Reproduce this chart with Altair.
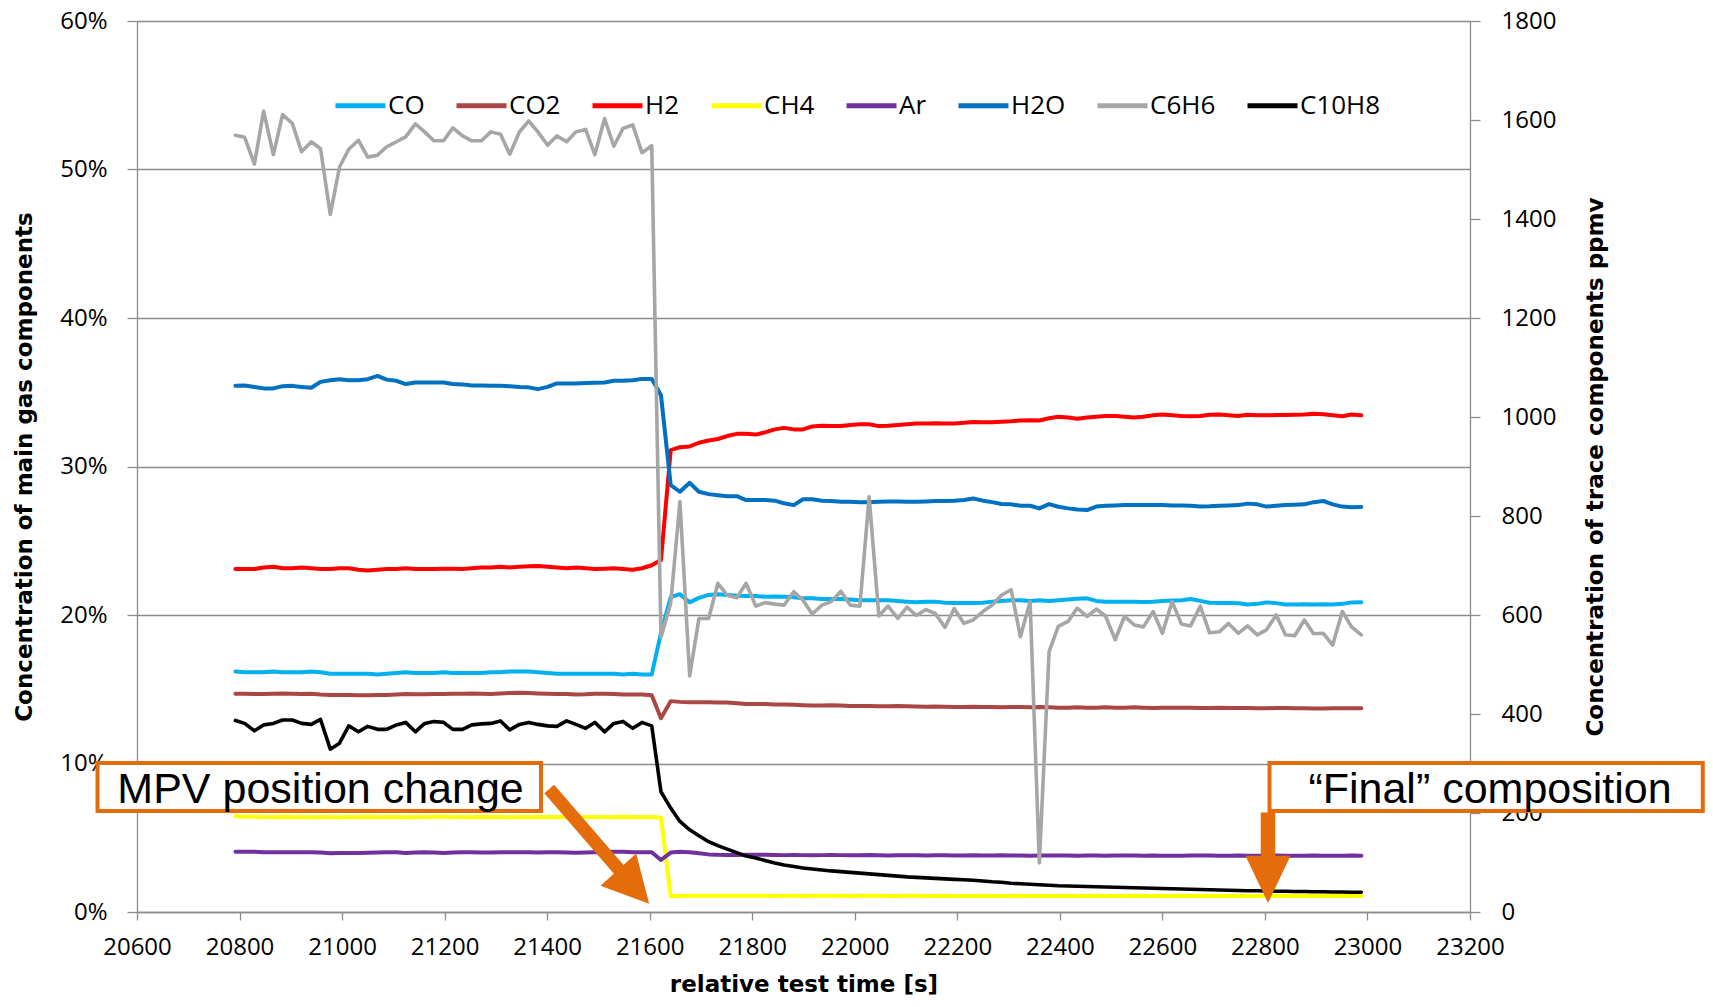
import altair as alt
import pandas as pd

# ---------------- data ----------------
TIME = [
    20792, 20810, 20829, 20847, 20866, 20884, 20903, 20921, 20940, 20958,
    20977, 20995, 21013, 21032, 21050, 21069, 21087, 21106, 21124, 21143,
    21161, 21179, 21198, 21216, 21235, 21253, 21272, 21290, 21309, 21327,
    21346, 21364, 21382, 21401, 21419, 21438, 21456, 21475, 21493, 21512,
    21530, 21548, 21567, 21585, 21604, 21622, 21641, 21659, 21678, 21696,
    21715, 21733, 21751, 21770, 21788, 21807, 21825, 21844, 21862, 21881,
    21899, 21917, 21936, 21954, 21973, 21991, 22010, 22028, 22047, 22065,
    22084, 22102, 22120, 22139, 22157, 22176, 22194, 22213, 22231, 22250,
    22268, 22286, 22305, 22323, 22342, 22360, 22379, 22397, 22416, 22434,
    22453, 22471, 22489, 22508, 22526, 22545, 22563, 22582, 22600, 22619,
    22637, 22655, 22674, 22692, 22711, 22729, 22748, 22766, 22785, 22803,
    22822, 22840, 22858, 22877, 22895, 22914, 22932, 22951, 22969, 22988,
]

CO = [
    16.20, 16.15, 16.15, 16.15, 16.20, 16.15, 16.15, 16.15, 16.20, 16.15,
    16.05, 16.05, 16.05, 16.05, 16.05, 16.00, 16.05, 16.10, 16.15, 16.10,
    16.10, 16.10, 16.15, 16.10, 16.10, 16.10, 16.10, 16.15, 16.15, 16.20,
    16.20, 16.20, 16.15, 16.10, 16.05, 16.05, 16.05, 16.05, 16.05, 16.05,
    16.05, 16.00, 16.05, 16.00, 16.00, 18.80, 21.20, 21.40, 20.85, 21.15,
    21.35, 21.40, 21.35, 21.30, 21.28, 21.28, 21.23, 21.25, 21.23, 21.20,
    21.12, 21.12, 21.08, 21.08, 21.08, 21.05, 21.00, 21.00, 21.00, 21.00,
    20.95, 20.90, 20.86, 20.90, 20.90, 20.83, 20.80, 20.80, 20.80, 20.83,
    20.90, 20.95, 21.00, 21.00, 20.95, 21.00, 20.95, 21.00, 21.05, 21.10,
    21.12, 20.95, 20.90, 20.90, 20.90, 20.90, 20.88, 20.90, 20.95, 20.97,
    21.00, 21.08, 20.95, 20.83, 20.80, 20.80, 20.79, 20.71, 20.75, 20.85,
    20.80, 20.71, 20.71, 20.72, 20.71, 20.72, 20.71, 20.75, 20.85, 20.86,
]

CO2 = [
    14.70, 14.70, 14.68, 14.68, 14.70, 14.72, 14.70, 14.68, 14.70, 14.65,
    14.62, 14.62, 14.62, 14.60, 14.60, 14.62, 14.62, 14.65, 14.68, 14.66,
    14.66, 14.68, 14.68, 14.70, 14.70, 14.72, 14.70, 14.68, 14.72, 14.74,
    14.76, 14.74, 14.72, 14.70, 14.68, 14.68, 14.65, 14.66, 14.70, 14.70,
    14.68, 14.65, 14.65, 14.65, 14.60, 13.05, 14.20, 14.15, 14.12, 14.12,
    14.12, 14.10, 14.10, 14.05, 14.00, 14.00, 14.00, 13.98, 13.98, 13.95,
    13.92, 13.90, 13.90, 13.92, 13.90, 13.88, 13.88, 13.88, 13.85, 13.85,
    13.88, 13.86, 13.84, 13.82, 13.84, 13.82, 13.80, 13.80, 13.82, 13.80,
    13.80, 13.78, 13.80, 13.80, 13.78, 13.80, 13.78, 13.76, 13.76, 13.78,
    13.76, 13.75, 13.78, 13.76, 13.75, 13.78, 13.76, 13.74, 13.76, 13.76,
    13.75, 13.76, 13.74, 13.74, 13.75, 13.74, 13.74, 13.74, 13.72, 13.72,
    13.74, 13.74, 13.72, 13.72, 13.70, 13.70, 13.72, 13.72, 13.72, 13.72,
]

H2 = [
    23.10, 23.10, 23.10, 23.20, 23.25, 23.15, 23.15, 23.20, 23.15, 23.10,
    23.10, 23.15, 23.15, 23.05, 23.00, 23.05, 23.10, 23.10, 23.15, 23.10,
    23.10, 23.10, 23.12, 23.12, 23.10, 23.15, 23.20, 23.20, 23.25, 23.20,
    23.25, 23.28, 23.30, 23.25, 23.20, 23.15, 23.20, 23.15, 23.10, 23.12,
    23.15, 23.10, 23.05, 23.15, 23.35, 23.70, 31.10, 31.30, 31.35, 31.60,
    31.75, 31.85, 32.05, 32.20, 32.20, 32.15, 32.30, 32.50, 32.60, 32.50,
    32.50, 32.70, 32.75, 32.72, 32.72, 32.80, 32.85, 32.85, 32.72, 32.75,
    32.80, 32.85, 32.90, 32.90, 32.92, 32.90, 32.90, 32.95, 33.00, 32.98,
    32.98, 33.02, 33.05, 33.10, 33.12, 33.10, 33.25, 33.35, 33.30, 33.22,
    33.30, 33.35, 33.40, 33.40, 33.35, 33.30, 33.35, 33.45, 33.50, 33.45,
    33.40, 33.38, 33.40, 33.48, 33.50, 33.45, 33.40, 33.48, 33.45, 33.45,
    33.46, 33.46, 33.48, 33.50, 33.55, 33.52, 33.45, 33.38, 33.50, 33.45,
]

CH4 = [
    6.45, 6.42, 6.42, 6.40, 6.40, 6.42, 6.40, 6.40, 6.38, 6.40,
    6.40, 6.38, 6.40, 6.40, 6.42, 6.40, 6.40, 6.40, 6.38, 6.40,
    6.40, 6.42, 6.42, 6.40, 6.40, 6.40, 6.42, 6.40, 6.40, 6.38,
    6.40, 6.40, 6.42, 6.40, 6.40, 6.40, 6.40, 6.38, 6.40, 6.40,
    6.40, 6.42, 6.40, 6.40, 6.40, 6.35, 1.06, 1.08, 1.09, 1.09,
    1.10, 1.09, 1.09, 1.10, 1.10, 1.09, 1.09, 1.08, 1.09, 1.09,
    1.08, 1.09, 1.09, 1.10, 1.09, 1.08, 1.09, 1.10, 1.09, 1.08,
    1.08, 1.09, 1.09, 1.08, 1.08, 1.09, 1.08, 1.07, 1.08, 1.09,
    1.08, 1.07, 1.08, 1.09, 1.08, 1.08, 1.07, 1.08, 1.09, 1.08,
    1.08, 1.09, 1.08, 1.07, 1.08, 1.09, 1.08, 1.08, 1.07, 1.08,
    1.09, 1.08, 1.08, 1.07, 1.08, 1.08, 1.09, 1.08, 1.07, 1.08,
    1.08, 1.07, 1.08, 1.09, 1.08, 1.08, 1.07, 1.08, 1.08, 1.08,
]

AR = [
    4.05, 4.05, 4.05, 4.03, 4.02, 4.03, 4.03, 4.02, 4.03, 4.00,
    3.95, 3.97, 3.98, 3.98, 3.99, 4.00, 4.02, 4.02, 3.98, 4.00,
    4.02, 4.00, 3.97, 4.00, 4.02, 4.02, 4.00, 4.00, 4.02, 4.02,
    4.03, 4.02, 4.00, 4.02, 4.02, 4.00, 3.99, 4.00, 4.02, 4.03,
    4.05, 4.05, 4.02, 4.03, 4.02, 3.50, 4.00, 4.05, 4.03, 3.95,
    3.88, 3.85, 3.84, 3.84, 3.85, 3.86, 3.85, 3.84, 3.83, 3.84,
    3.83, 3.82, 3.83, 3.84, 3.83, 3.82, 3.82, 3.84, 3.82, 3.81,
    3.82, 3.83, 3.82, 3.80, 3.82, 3.82, 3.80, 3.81, 3.82, 3.80,
    3.80, 3.82, 3.81, 3.80, 3.79, 3.80, 3.81, 3.80, 3.80, 3.79,
    3.80, 3.80, 3.78, 3.80, 3.81, 3.80, 3.78, 3.80, 3.79, 3.78,
    3.79, 3.80, 3.81, 3.80, 3.78, 3.79, 3.80, 3.79, 3.78, 3.79,
    3.80, 3.79, 3.78, 3.79, 3.80, 3.79, 3.78, 3.79, 3.80, 3.79,
]

H2O = [
    35.43, 35.45, 35.36, 35.26, 35.26, 35.41, 35.43, 35.36, 35.30, 35.70,
    35.81, 35.88, 35.81, 35.81, 35.88, 36.10, 35.85, 35.77, 35.55, 35.66,
    35.66, 35.66, 35.66, 35.55, 35.53, 35.45, 35.45, 35.43, 35.43, 35.41,
    35.36, 35.33, 35.21, 35.36, 35.59, 35.59, 35.59, 35.62, 35.64, 35.66,
    35.77, 35.77, 35.81, 35.90, 35.90, 34.80, 28.75, 28.30, 28.90, 28.30,
    28.14, 28.07, 28.00, 28.00, 27.74, 27.74, 27.74, 27.70, 27.52, 27.40,
    27.79, 27.79, 27.70, 27.68, 27.63, 27.63, 27.60, 27.60, 27.63, 27.65,
    27.65, 27.63, 27.62, 27.65, 27.68, 27.68, 27.70, 27.74, 27.85, 27.70,
    27.60, 27.47, 27.45, 27.36, 27.36, 27.18, 27.47, 27.29, 27.18, 27.11,
    27.07, 27.30, 27.36, 27.38, 27.40, 27.40, 27.40, 27.40, 27.40, 27.38,
    27.38, 27.36, 27.30, 27.32, 27.36, 27.38, 27.40, 27.50, 27.45, 27.30,
    27.35, 27.40, 27.42, 27.45, 27.60, 27.68, 27.45, 27.30, 27.25, 27.28,
]

C6H6 = [
    1569, 1565, 1511, 1618, 1530, 1611, 1593, 1536, 1556, 1542,
    1409, 1505, 1541, 1559, 1525, 1529, 1546, 1556, 1566, 1592,
    1576, 1558, 1558, 1584, 1568, 1558, 1558, 1576, 1571, 1531,
    1576, 1598, 1576, 1549, 1568, 1556, 1576, 1581, 1530, 1603,
    1547, 1583, 1590, 1534, 1548, 555, 624, 829, 477, 593,
    593, 664, 640, 635, 664, 618, 625, 622, 620, 647,
    630, 602, 620, 627, 648, 620, 618, 839, 598, 618,
    593, 616, 599, 611, 603, 575, 613, 583, 590, 607,
    620, 640, 651, 556, 627, 99, 526, 577, 587, 614,
    597, 612, 598, 550, 597, 580, 576, 607, 563, 627,
    582, 578, 618, 564, 566, 583, 563, 578, 560, 570,
    600, 560, 558, 590, 562, 563, 539, 607, 576, 560,
]

C10H8 = [
    387, 381, 366, 378, 381, 388, 388, 381, 379, 389,
    329, 341, 376, 364, 375, 369, 369, 378, 383, 364,
    381, 385, 383, 369, 369, 378, 380, 381, 386, 368,
    379, 383, 379, 376, 375, 386, 379, 371, 383, 364,
    381, 385, 371, 383, 376, 243, 210, 183, 166, 154,
    142, 134, 127, 120, 113, 109, 104, 99, 95, 92,
    89, 87, 85, 83, 81.5, 80, 78.5, 77, 75.5, 74,
    72.5, 71, 70, 69, 68, 67, 66, 65, 64, 62.5,
    61, 60, 58, 57, 56, 55, 54, 53, 52.5, 52,
    51.5, 51, 50.5, 50, 49.5, 49, 48.5, 48, 47.5, 47,
    46.5, 46, 45.5, 45, 44.5, 44, 43.5, 43, 43, 42.5,
    42, 42, 41.5, 41.5, 41, 41, 40.5, 40.5, 40, 40,
]

SERIES = ["CO", "CO2", "H2", "CH4", "Ar", "H2O", "C6H6", "C10H8"]
COLORS = ["#00B0F0", "#AA4643", "#FF0000", "#FFFF00", "#7030A0", "#0070C0", "#A6A6A6", "#000000"]
MAIN = {"CO": CO, "CO2": CO2, "H2": H2, "CH4": CH4, "Ar": AR, "H2O": H2O}
TRACE = {"C6H6": C6H6, "C10H8": C10H8}

X_TICKS = [20600, 20800, 21000, 21200, 21400, 21600, 21800, 22000,
           22200, 22400, 22600, 22800, 23000, 23200]
PCT_TICKS = [0, 10, 20, 30, 40, 50, 60]
PPM_TICKS = [0, 200, 400, 600, 800, 1000, 1200, 1400, 1600, 1800]

# annotations (data coordinates: time [s], percent)
BOX_LABELS = ["MPV position change", "\u201cFinal\u201d composition"]
BOX_T0 = [20523, 22809]
BOX_T1 = [21388, 23654]
BOX_P0 = [10.03, 10.03]
BOX_P1 = [6.80, 6.80]
TEXT_T = [20958, 23239]
TEXT_P = [7.33, 7.33]
ARROW1_T = [21404, 21566]
ARROW1_P = [8.29, 1.81]
ARROW1_TIP = [21599, 0.55]
ARROW2_T = [22806, 22806]
ARROW2_P = [6.70, 2.60]
ARROW2_TIP = [22806, 0.60]

ORANGE = "#E46C0A"
GRID = "#8C8C8C"

# ---------------- tables ----------------
df_main = pd.DataFrame(
    [{"time": t, "series": s, "pct": v} for s, vals in MAIN.items() for t, v in zip(TIME, vals)]
)
df_trace = pd.DataFrame(
    [{"time": t, "series": s, "ppm": v} for s, vals in TRACE.items() for t, v in zip(TIME, vals)]
)
df_box = pd.DataFrame({"time": BOX_T0, "time2": BOX_T1, "pct": BOX_P0, "pct2": BOX_P1})
df_text = pd.DataFrame({"time": TEXT_T, "pct": TEXT_P, "label": BOX_LABELS})
df_a1 = pd.DataFrame({"time": ARROW1_T, "pct": ARROW1_P})
df_a2 = pd.DataFrame({"time": ARROW2_T, "pct": ARROW2_P})
df_h1 = pd.DataFrame({"time": [ARROW1_TIP[0]], "pct": [ARROW1_TIP[1]]})
df_h2 = pd.DataFrame({"time": [ARROW2_TIP[0]], "pct": [ARROW2_TIP[1]]})

LABEL_FONT = "Open Sans"
TITLE_FONT = "DejaVu Sans"

x_enc = alt.X(
    "time:Q",
    scale=alt.Scale(domain=[20600, 23200], nice=False, zero=False),
    axis=alt.Axis(
        values=X_TICKS, format="d", grid=False, labelFlush=False, labelOverlap=False,
        labelFont=LABEL_FONT, labelFontSize=24, labelColor="#000000",
        labelBaseline="middle", labelPadding=27,
        tickSize=8, tickColor=GRID, tickWidth=1.3,
        domainColor=GRID, domainWidth=1.3,
        title="relative test time [s]", titleFont=TITLE_FONT, titleFontSize=23,
        titleFontWeight="bold", titleColor="#000000",
        titleX=666.5, titleY=72, titleBaseline="middle", titleAlign="center",
        zindex=0,
    ),
)

y_left = alt.Y(
    "pct:Q",
    scale=alt.Scale(domain=[0, 60], nice=False, zero=True),
    axis=alt.Axis(
        orient="left", values=PCT_TICKS, labelExpr="datum.value + '%'",
        labelFont=LABEL_FONT, labelFontSize=24, labelColor="#000000", labelPadding=20,
        tickSize=10, tickColor=GRID, tickWidth=1.3,
        domainColor=GRID, domainWidth=1.3,
        grid=True, gridColor=GRID, gridWidth=1.3,
        title="Concentration of main gas components", titleFont=TITLE_FONT,
        titleFontSize=23, titleFontWeight="bold", titleColor="#000000",
        titleAngle=270, titleX=-112.6, titleY=445.5,
        titleBaseline="middle", titleAlign="center",
        zindex=0,
    ),
)

y_right = alt.Y(
    "ppm:Q",
    scale=alt.Scale(domain=[0, 1800], nice=False, zero=True),
    axis=alt.Axis(
        orient="right", values=PPM_TICKS, format="d",
        labelFont=LABEL_FONT, labelFontSize=24, labelColor="#000000", labelPadding=21,
        tickSize=10, tickColor=GRID, tickWidth=1.3,
        domainColor=GRID, domainWidth=1.3, grid=False,
        title="Concentration of trace components ppmv", titleFont=TITLE_FONT,
        titleFontSize=23, titleFontWeight="bold", titleColor="#000000",
        titleAngle=270, titleX=125, titleY=445.5,
        titleBaseline="middle", titleAlign="center",
        zindex=0,
    ),
)

y_ann = alt.Y("pct:Q", scale=alt.Scale(domain=[0, 60], nice=False, zero=True), axis=None)

color_enc = alt.Color(
    "series:N",
    scale=alt.Scale(domain=SERIES, range=COLORS),
    legend=alt.Legend(
        title=None, orient="none", legendX=196, legendY=57, direction="horizontal",
        symbolType="stroke", symbolSize=2500, symbolStrokeWidth=5,
        labelFont=LABEL_FONT, labelFontSize=26, labelColor="#000000",
        labelOffset=0, columnPadding=21, padding=0, rowPadding=0,
    ),
)


def series_line(df, name, yenc, width):
    return (
        alt.Chart(df)
        .transform_filter(alt.datum.series == name)
        .mark_line(strokeWidth=width, strokeCap="round", strokeJoin="round")
        .encode(x=x_enc, y=yenc, color=color_enc)
    )


left = alt.layer(*[series_line(df_main, s, y_left, 4) for s in MAIN])
right = alt.layer(*[series_line(df_trace, s, y_right, 3.6) for s in TRACE])

boxes = alt.Chart(df_box).mark_rect(fill="white", stroke=ORANGE, strokeWidth=4).encode(
    x=x_enc, x2="time2:Q", y=y_ann, y2="pct2:Q"
)
texts = alt.Chart(df_text).mark_text(
    font="Liberation Sans", fontSize=43, align="center", baseline="alphabetic", color="#000000"
).encode(x=x_enc, y=y_ann, text="label:N")
shaft1 = alt.Chart(df_a1).mark_line(color=ORANGE, strokeWidth=13, strokeCap="butt").encode(x=x_enc, y=y_ann)
shaft2 = alt.Chart(df_a2).mark_line(color=ORANGE, strokeWidth=14.5, strokeCap="butt").encode(x=x_enc, y=y_ann)
head1 = alt.Chart(df_h1).mark_point(
    shape="M0,0L-1,-1.92L1,-1.92Z", size=2304, angle=318, filled=True,
    fill=ORANGE, color=ORANGE, opacity=1, strokeWidth=0,
).encode(x=x_enc, y=y_ann)
head2 = alt.Chart(df_h2).mark_point(
    shape="M0,0L-1,-2.1L1,-2.1Z", size=2025, filled=True,
    fill=ORANGE, color=ORANGE, opacity=1, strokeWidth=0,
).encode(x=x_enc, y=y_ann)

annotations = alt.layer(boxes, texts, shaft1, shaft2, head1, head2)

chart = (
    alt.layer(left, right, annotations)
    .resolve_scale(y="independent")
    .properties(
        width=1333, height=891,
        autosize=alt.AutoSizeParams(type="none"),
        padding={"left": 129, "top": 13, "right": 235, "bottom": 86},
        background="white",
    )
    .configure_view(stroke=None)
)

chart.save("out.html", embed_options={"renderer": "svg", "actions": False})
